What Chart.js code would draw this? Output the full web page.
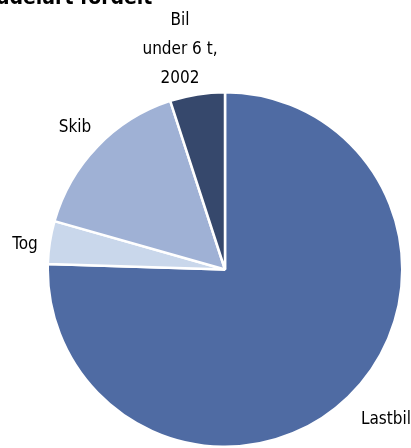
<!DOCTYPE html>
<html>
<head>
<meta charset="utf-8">
<script src="https://cdn.jsdelivr.net/npm/chart.js@4/dist/chart.umd.min.js"></script>
<style>
html,body{margin:0;padding:0;background:#fff;overflow:hidden;}
#wrap{position:relative;width:411px;height:448px;}
#title{position:absolute;left:-4px;top:-15px;font:bold 21px "DejaVu Sans Condensed","DejaVu Sans",sans-serif;color:#000;white-space:nowrap;line-height:24px;}
canvas{position:absolute;left:0;top:0;}
</style>
</head>
<body>
<div id="wrap">
<canvas id="c" width="411" height="448"></canvas>
<div id="title">ddelart fordelt</div>
</div>
<script>
const categories = ["Lastbil", "Tog", "Skib", "Bil under 6 t, 2002"];
const shares = [75.5, 3.9, 15.6, 5.0];
const labelLines = [["Lastbil"], ["Tog"], ["Skib"], ["Bil", "under 6 t,", "2002"]];
const colors = ["#4f6ba3", "#c9d7eb", "#9fb1d5", "#36486c"];

// label anchor positions (px) for the slice labels
const labelPos = [[386, 420], [25, 245], [75, 128], [180, 21]];

const labelPlugin = {
  id: 'sliceLabels',
  afterDatasetsDraw(chart) {
    const ctx = chart.ctx;
    ctx.save();
    ctx.font = '17px "DejaVu Sans Condensed", "DejaVu Sans", sans-serif';
    ctx.fillStyle = '#000';
    ctx.textAlign = 'center';
    ctx.textBaseline = 'middle';
    labelLines.forEach((lines, i) => {
      const [x, y] = labelPos[i];
      lines.forEach((ln, k) => ctx.fillText(ln, x, y + k * 29));
    });
    ctx.restore();
  }
};

new Chart(document.getElementById('c'), {
  type: 'pie',
  data: {
    labels: categories,
    datasets: [{
      data: shares,
      backgroundColor: colors,
      borderColor: '#ffffff',
      borderWidth: 2.5
    }]
  },
  options: {
    responsive: false,
    animation: false,
    layout: { padding: { left: 45, right: 6, top: 91, bottom: -2 } },
    plugins: { legend: { display: false }, tooltip: { enabled: false }, title: { display: false } }
  },
  plugins: [labelPlugin]
});
</script>
</body>
</html>
